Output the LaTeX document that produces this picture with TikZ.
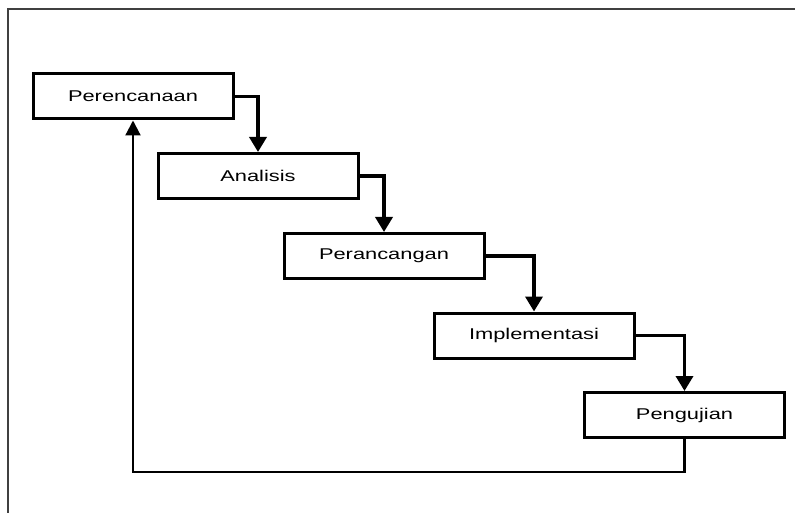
\documentclass[tikz,border=0pt]{standalone}
\usepackage{fontspec}
\newfontfamily\lblfont[FakeStretch=1.4]{Liberation Sans}
\usetikzlibrary{arrows.meta}
\begin{document}
\begin{tikzpicture}[x=1pt,y=-1pt,
  stepbox/.style={draw=black,line width=3pt,fill=white,minimum width=200pt,minimum height=45pt,inner sep=0pt,font=\lblfont\fontsize{15.6pt}{18pt}\selectfont},
  flow/.style={line width=3.5pt,-{Triangle[width=17pt,length=15pt]}},
  back/.style={line width=2.2pt,-{Triangle[width=15pt,length=15pt]}},
  frame/.style={line width=1.5pt,draw=black!75}]
\useasboundingbox (0,0) rectangle (795,513);
\draw[frame] (8,513) -- (8,9) -- (795,9);
\node[stepbox] (p1) at (133,96.5) {Perencanaan};
\node[stepbox] (p2) at (258,176) {Analisis};
\node[stepbox] (p3) at (384,256) {Perancangan};
\node[stepbox] (p4) at (534,335.5) {Implementasi};
\node[stepbox] (p5) at (684.5,415) {Pengujian};
\draw[flow] (p1.east) -| (p2.north);
\draw[flow] (p2.east) -| (p3.north);
\draw[flow] (p3.east) -| (p4.north);
\draw[flow] (p4.east) -| (p5.north);
\coordinate (b1) at (684.5,472);
\coordinate (b2) at (133,472);
\draw[back] (p5.south) -- (b1) -- (b2) -- (p1.south);
\end{tikzpicture}
\end{document}
